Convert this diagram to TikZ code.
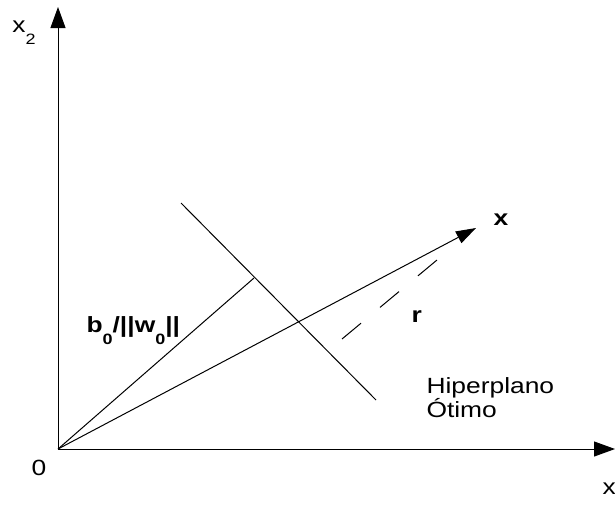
\documentclass[tikz,border=0pt]{standalone}
\usepackage{fontspec}
\setmainfont[FakeStretch=1.2]{Liberation Sans}
\usetikzlibrary{arrows.meta}
\newcommand{\lowsub}[1]{\raisebox{-12.5pt}{\fontsize{15}{15}\selectfont #1}}

\begin{document}
\begin{tikzpicture}[x=1pt, y=-1pt, line width=1pt,
    axis/.style={-{Triangle[length=21pt,width=15pt]}},
    vector/.style={-{Triangle[length=20pt,width=13pt]}},
    plain/.style={inner sep=0pt, anchor=base west, font=\fontsize{22}{24}\selectfont},
    strong/.style={plain, font=\fontsize{22}{24}\selectfont\bfseries}]
    \useasboundingbox (0,0) rectangle (615,506);

    % Axes
    \coordinate (ORIGIN) at (58,449);
    \coordinate (X2_TIP) at (58,7);
    \coordinate (X1_TIP) at (615,449);
    \draw[axis] (ORIGIN) -- (X2_TIP);
    \draw[axis] (ORIGIN) -- (X1_TIP);

    \node[plain] (X2_LABEL) at (12,32) {x\lowsub{2}};
    \node[plain] (X1_LABEL) at (602,494) {x};
    \node[plain] (ZERO) at (31,475) {0};

    % Optimal hyperplane and distance to it
    \coordinate (PLANE_TOP) at (181,203);
    \coordinate (PLANE_BOT) at (376,400);
    \coordinate (FOOT) at (254,278);
    \draw (PLANE_TOP) -- (PLANE_BOT);
    \draw (ORIGIN) -- (FOOT);

    \node[strong] (B_LABEL) at (86,332) {b\lowsub{0}/||w\lowsub{0}||};
    \node[plain] (HYPER_1) at (426,393) {Hiperplano};
    \node[plain] (HYPER_2) at (426,417) {Ótimo};

    % Vector x and distance r
    \coordinate (X_TIP) at (476,228);
    \coordinate (R_START) at (342,339);
    \coordinate (R_END) at (437,260);
    \draw[vector] (ORIGIN) -- (X_TIP);
    \draw[dash pattern=on 24.7pt off 24.7pt] (R_START) -- (R_END);

    \node[strong] (X_LABEL) at (493,225) {x};
    \node[strong] (R_LABEL) at (411,322) {r};
\end{tikzpicture}
\end{document}
